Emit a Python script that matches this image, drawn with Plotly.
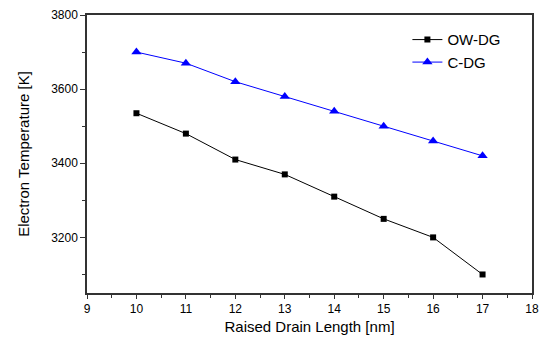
import plotly.graph_objects as go

x_len = [10, 11, 12, 13, 14, 15, 16, 17]
ow_dg = [3535, 3480, 3410, 3370, 3310, 3250, 3200, 3100]
c_dg = [3700, 3670, 3620, 3580, 3540, 3500, 3460, 3420]
x_ticks = [9, 10, 11, 12, 13, 14, 15, 16, 17, 18]
y_ticks = [3200, 3400, 3600, 3800]

fig = go.Figure()
fig.add_trace(go.Scatter(x=x_len, y=ow_dg, name="OW-DG", mode="lines+markers",
                         line=dict(color="black", width=1),
                         marker=dict(symbol="square", size=6, color="black")))
fig.add_trace(go.Scatter(x=x_len, y=c_dg, name="C-DG", mode="lines+markers",
                         line=dict(color="blue", width=1),
                         marker=dict(symbol="triangle-up", size=9, color="blue")))

font_family = "Liberation Sans, Arial, sans-serif"
fig.update_layout(
    width=546, height=340,
    margin=dict(l=87, r=7, t=15, b=47),
    paper_bgcolor="white", plot_bgcolor="white",
    font=dict(family=font_family, size=12, color="black"),
    showlegend=True,
    legend=dict(x=0.72, y=0.97, xanchor="left", yanchor="top",
                bgcolor="rgba(0,0,0,0)", font=dict(size=15),
                itemwidth=30, tracegroupgap=0),
    xaxis=dict(range=[9, 18], tickvals=x_ticks, showgrid=False, zeroline=False,
               showline=True, linecolor="#333", linewidth=1.5, mirror=True,
               ticks="outside", ticklen=4, tickcolor="#333",
               minor=dict(dtick=0.5, ticks="outside", ticklen=3, tickcolor="#333"),
               title=dict(text="Raised Drain Length [nm]", font=dict(size=15), standoff=6)),
    yaxis=dict(range=[3050, 3800], tickvals=y_ticks, showgrid=False, zeroline=False,
               showline=True, linecolor="#333", linewidth=1.5, mirror=True,
               ticks="outside", ticklen=5, tickcolor="#333",
               minor=dict(dtick=100, ticks="outside", ticklen=3, tickcolor="#333"),
               title=dict(text="Electron Temperature [K]", font=dict(size=15), standoff=18)),
)

fig.write_html("out.html")
